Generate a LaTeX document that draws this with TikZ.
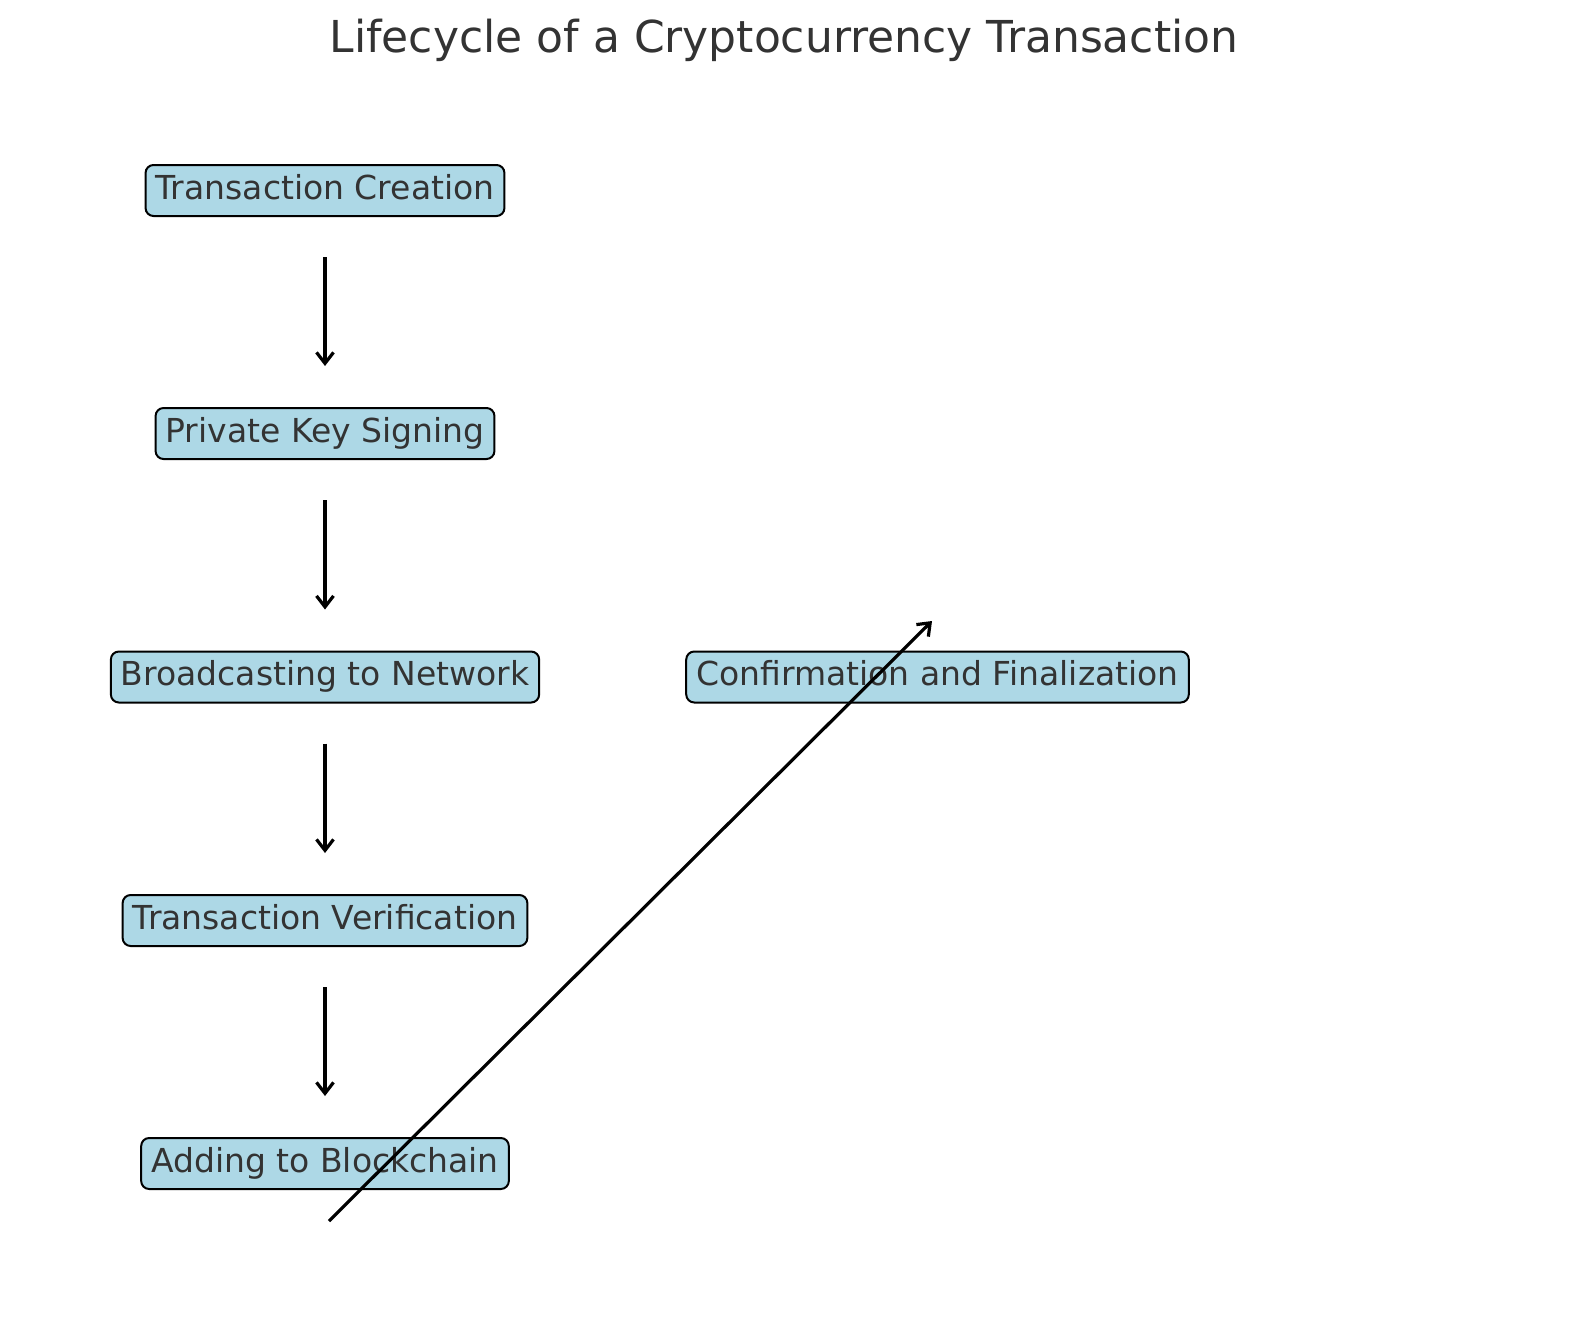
\documentclass[tikz,border=0pt]{standalone}
\usepackage{fontspec}
\setmainfont{DejaVu Sans}
\usetikzlibrary{arrows.meta}
\definecolor{boxfill}{HTML}{ADD8E6}
\definecolor{txt}{HTML}{333333}
\tikzset{
  stage/.style={draw=black, line width=1pt, fill=boxfill, rounded corners=4pt,
    text=txt, font=\fontsize{16.5}{19}\selectfont, inner xsep=5pt,
    minimum height=25.5pt, text height=12pt, text depth=3.5pt},
  flow/.style={draw=black, line width=1.6pt,
    -{Straight Barb[length=5.5pt,width=8.5pt,line width=1.6pt]}},
  gap/.style={shorten <=20pt, shorten >=20.5pt}
}
\begin{document}
\begin{tikzpicture}[x=0.5pt,y=-0.5pt]
\useasboundingbox (0,0) rectangle (1589,1322);
\node[text=txt, font=\fontsize{22}{26}\selectfont] (title) at (784,40) {Lifecycle of a Cryptocurrency Transaction};
\node[stage] (create) at (325,190.5) {Transaction Creation};
\node[stage] (sign) at (325,433.5) {Private Key Signing};
\node[stage] (bcast) at (325,677) {Broadcasting to Network};
\node[stage] (verify) at (325,920.5) {Transaction Verification};
\node[stage] (add) at (325,1163.5) {Adding to Blockchain};
\node[stage] (confirm) at (937.5,677) {Confirmation and Finalization};
\draw[flow,gap] (create) -- (sign);
\draw[flow,gap] (sign) -- (bcast);
\draw[flow,gap] (bcast) -- (verify);
\draw[flow,gap] (verify) -- (add);
\coordinate (diagS) at (329,1221);
\coordinate (diagE) at (932,621);
\draw[flow] (diagS) -- (diagE);
\end{tikzpicture}
\end{document}
